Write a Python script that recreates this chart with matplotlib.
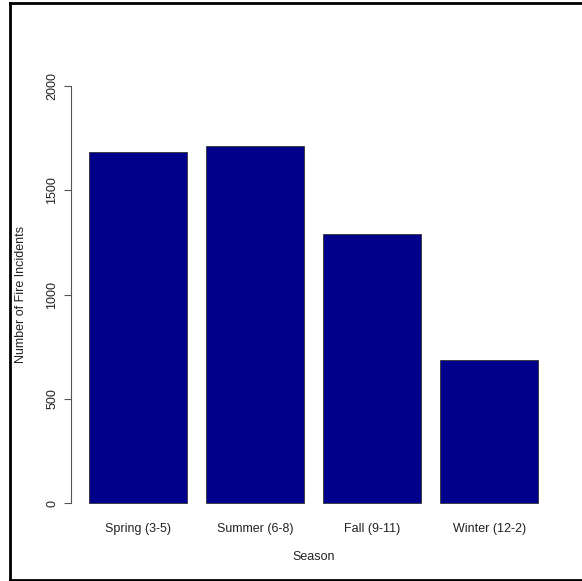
import matplotlib
matplotlib.use("Agg")
import matplotlib.pyplot as plt
from matplotlib.lines import Line2D

seasons = ["Spring (3-5)", "Summer (6-8)", "Fall (9-11)", "Winter (12-2)"]
incidents = [1683, 1712, 1290, 686]
y_ticks = [0, 500, 1000, 1500, 2000]

plt.rcParams["font.family"] = ["Liberation Sans", "DejaVu Sans"]

W, H = 582, 581
fig = plt.figure(figsize=(W / 100, H / 100), dpi=100)

# plot region in pixels, R-style
left, right, top, bottom = 71, 556, 69, 520
ax = fig.add_axes([left / W, 1 - bottom / H, (right - left) / W, (bottom - top) / H])

# R barplot geometry: width 1, space 0.2
xs = [0.2 + 1.2 * i + 0.5 for i in range(len(seasons))]
ax.bar(xs, incidents, width=1.0, color="#00008B", edgecolor="#333333", linewidth=0.6)

ax.set_xlim(0.2 - 0.184, 4.8 + 0.184)
ax.set_ylim(-80, 2080)

for s in ["top", "right", "bottom"]:
    ax.spines[s].set_visible(False)
ax.spines["left"].set_bounds(0, 2000)
ax.spines["left"].set_color("#555555")
ax.spines["left"].set_linewidth(0.8)

ax.set_yticks(y_ticks)
ax.set_yticklabels([str(v) for v in y_ticks], rotation=90, va="center", fontsize=9)
ax.tick_params(axis="y", length=5, width=0.8, color="#555555", pad=4, labelcolor="#222222")

ax.set_xticks(xs)
ax.set_xticklabels(seasons, fontsize=9)
ax.tick_params(axis="x", length=0, pad=2, labelcolor="#222222")

ax.set_xlabel("Season", fontsize=9, labelpad=12, color="#222222")
ax.set_ylabel("Number of Fire Incidents", fontsize=9, labelpad=14, color="#222222")

# screenshot frame
lw = 2
fig.add_artist(Line2D([10 / W, 10 / W], [1 - 2.5 / H, 1 - 579.5 / H], color="black", lw=lw, transform=fig.transFigure))
fig.add_artist(Line2D([10 / W, 1], [1 - 2.5 / H, 1 - 2.5 / H], color="black", lw=lw, transform=fig.transFigure))
fig.add_artist(Line2D([10 / W, 1], [1 - 579.5 / H, 1 - 579.5 / H], color="black", lw=lw, transform=fig.transFigure))

fig.savefig("out.png", dpi=100)
